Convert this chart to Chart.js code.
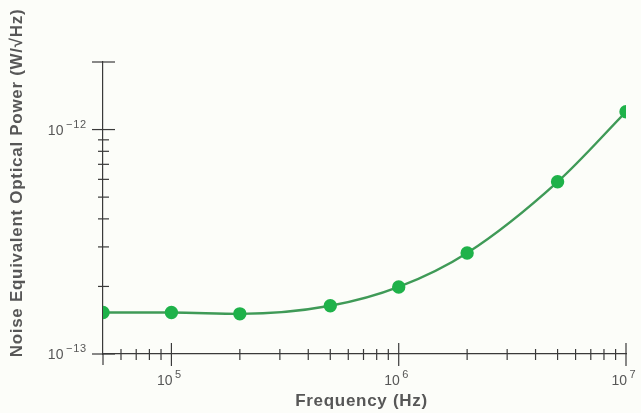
<!DOCTYPE html>
<html>
<head>
<meta charset="utf-8">
<script src="https://cdn.jsdelivr.net/npm/chart.js@4/dist/chart.umd.min.js"></script>
<style>
  html, body { margin: 0; padding: 0; background: #fcfdf9; }
  #wrap { width: 641px; height: 413px; position: relative; }
</style>
</head>
<body>
<div id="wrap"><canvas id="c"></canvas></div>
<script>
// ---- data ----
const frequencies = [5e4, 1e5, 2e5, 5e5, 1e6, 2e6, 5e6, 1e7];
const noisePower  = [1.53e-13, 1.53e-13, 1.51e-13, 1.64e-13, 1.99e-13, 2.82e-13, 5.85e-13, 1.20e-12];

// ---- axis ticks ----
const xTicks = [5e4, 6e4, 7e4, 8e4, 9e4, 1e5, 2e5, 3e5, 4e5, 5e5, 6e5, 7e5, 8e5, 9e5,
                1e6, 2e6, 3e6, 4e6, 5e6, 6e6, 7e6, 8e6, 9e6, 1e7];
const xMajorTicks = [1e5, 1e6, 1e7];
const xLabelValues = [1e5, 1e6, 1e7];
const xLabelExponents = ['5', '6', '7'];

const yTicks = [1e-13, 2e-13, 3e-13, 4e-13, 5e-13, 6e-13, 7e-13, 8e-13, 9e-13, 1e-12, 2e-12];
const yMajorTicks = [1e-13, 1e-12, 2e-12];
const yLabelValues = [1e-13, 1e-12];
const yLabelExponents = ['\u221213', '\u221212'];

const xTitle = 'Frequency (Hz)';
const yTitle = 'Noise Equivalent Optical Power (W/\u221AHz)';

const textColor = '#575757';
const axisColor = '#3a3a3a';
const FONT = '"Liberation Sans", Arial, sans-serif';

function drawPower(ctx, x, baseline, exp, align) {
  ctx.letterSpacing = '0px';
  ctx.font = '14px ' + FONT;
  const wBase = ctx.measureText('10').width;
  ctx.font = '11px ' + FONT;
  ctx.letterSpacing = '0.8px';
  const wExp = ctx.measureText(exp).width;
  const gap = 2.5;
  const total = wBase + gap + wExp;
  let start = align === 'right' ? x - total : x - total / 2;
  ctx.textAlign = 'left';
  ctx.textBaseline = 'alphabetic';
  ctx.letterSpacing = '0px';
  ctx.font = '14px ' + FONT;
  ctx.fillText('10', start, baseline);
  ctx.font = '11px ' + FONT;
  ctx.letterSpacing = '0.8px';
  ctx.fillText(exp, start + wBase + gap, baseline - 7);
  ctx.letterSpacing = '0px';
}

const axisDecor = {
  id: 'axisDecor',
  afterDraw(chart) {
    const ctx = chart.ctx;
    const xs = chart.scales.x, ys = chart.scales.y;
    const ax = chart.chartArea;
    ctx.save();
    ctx.strokeStyle = axisColor;
    ctx.lineWidth = 1.2;
    // y ticks crossing the axis
    yTicks.forEach(v => {
      const py = ys.getPixelForValue(v);
      const len = yMajorTicks.includes(v) ? 11 : 5;
      ctx.beginPath();
      ctx.moveTo(ax.left - len, py);
      ctx.lineTo(ax.left + len + 1, py);
      ctx.stroke();
    });
    // x ticks crossing the axis
    xTicks.forEach((v, i) => {
      const px = xs.getPixelForValue(v);
      const major = xMajorTicks.includes(v);
      ctx.beginPath();
      if (i === 0) {
        ctx.moveTo(px, ax.bottom);
        ctx.lineTo(px, ax.bottom + 11);
      } else {
        const len = major ? 11 : 5;
        ctx.moveTo(px, ax.bottom - len);
        ctx.lineTo(px, ax.bottom + len + 1);
      }
      ctx.stroke();
    });
    ctx.fillStyle = textColor;
    // tick labels
    yLabelValues.forEach((v, i) => {
      const py = ys.getPixelForValue(v);
      drawPower(ctx, ax.left - 16, py + 5, yLabelExponents[i], 'right');
    });
    xLabelValues.forEach((v, i) => {
      const px = xs.getPixelForValue(v);
      drawPower(ctx, px - 2, ax.bottom + 31, xLabelExponents[i], 'center');
    });
    // titles
    ctx.font = 'bold 17px ' + FONT;
    ctx.letterSpacing = '0.7px';
    ctx.textAlign = 'center';
    ctx.textBaseline = 'alphabetic';
    ctx.fillText(xTitle, (ax.left + ax.right) / 2 - 3, 406);
    ctx.textBaseline = 'middle';
    ctx.translate(17, 183);
    ctx.rotate(-Math.PI / 2);
    ctx.fillText(yTitle, 0, 0);
    ctx.restore();
  }
};

new Chart(document.getElementById('c'), {
  type: 'line',
  data: {
    datasets: [{
      data: frequencies.map((f, i) => ({ x: f, y: noisePower[i] })),
      borderColor: '#3f9a57',
      borderWidth: 2.4,
      pointBackgroundColor: '#1fb24a',
      pointBorderColor: '#1fb24a',
      pointRadius: 5.5,
      cubicInterpolationMode: 'monotone',
      fill: false
    }]
  },
  options: {
    responsive: true,
    maintainAspectRatio: false,
    animation: false,
    layout: { padding: { top: 62, right: 15, left: 0, bottom: 0 } },
    plugins: { legend: { display: false }, tooltip: { enabled: false } },
    scales: {
      x: {
        type: 'logarithmic',
        min: 5e4,
        max: 1e7,
        afterBuildTicks(scale) { scale.ticks = xTicks.map(v => ({ value: v })); },
        afterFit(scale) { scale.height = 59; scale.paddingLeft = 0; scale.paddingRight = 0; },
        grid: { display: false, drawTicks: false },
        border: { display: true, color: axisColor, width: 1.2 },
        ticks: { display: false, autoSkip: false, maxRotation: 0 }
      },
      y: {
        type: 'logarithmic',
        min: 1e-13,
        max: 2e-12,
        afterBuildTicks(scale) { scale.ticks = yTicks.map(v => ({ value: v })); },
        afterFit(scale) { scale.width = 103; scale.paddingTop = 0; scale.paddingBottom = 0; },
        grid: { display: false, drawTicks: false },
        border: { display: true, color: axisColor, width: 1.2 },
        ticks: { display: false, autoSkip: false }
      }
    }
  },
  plugins: [axisDecor]
});
</script>
</body>
</html>
